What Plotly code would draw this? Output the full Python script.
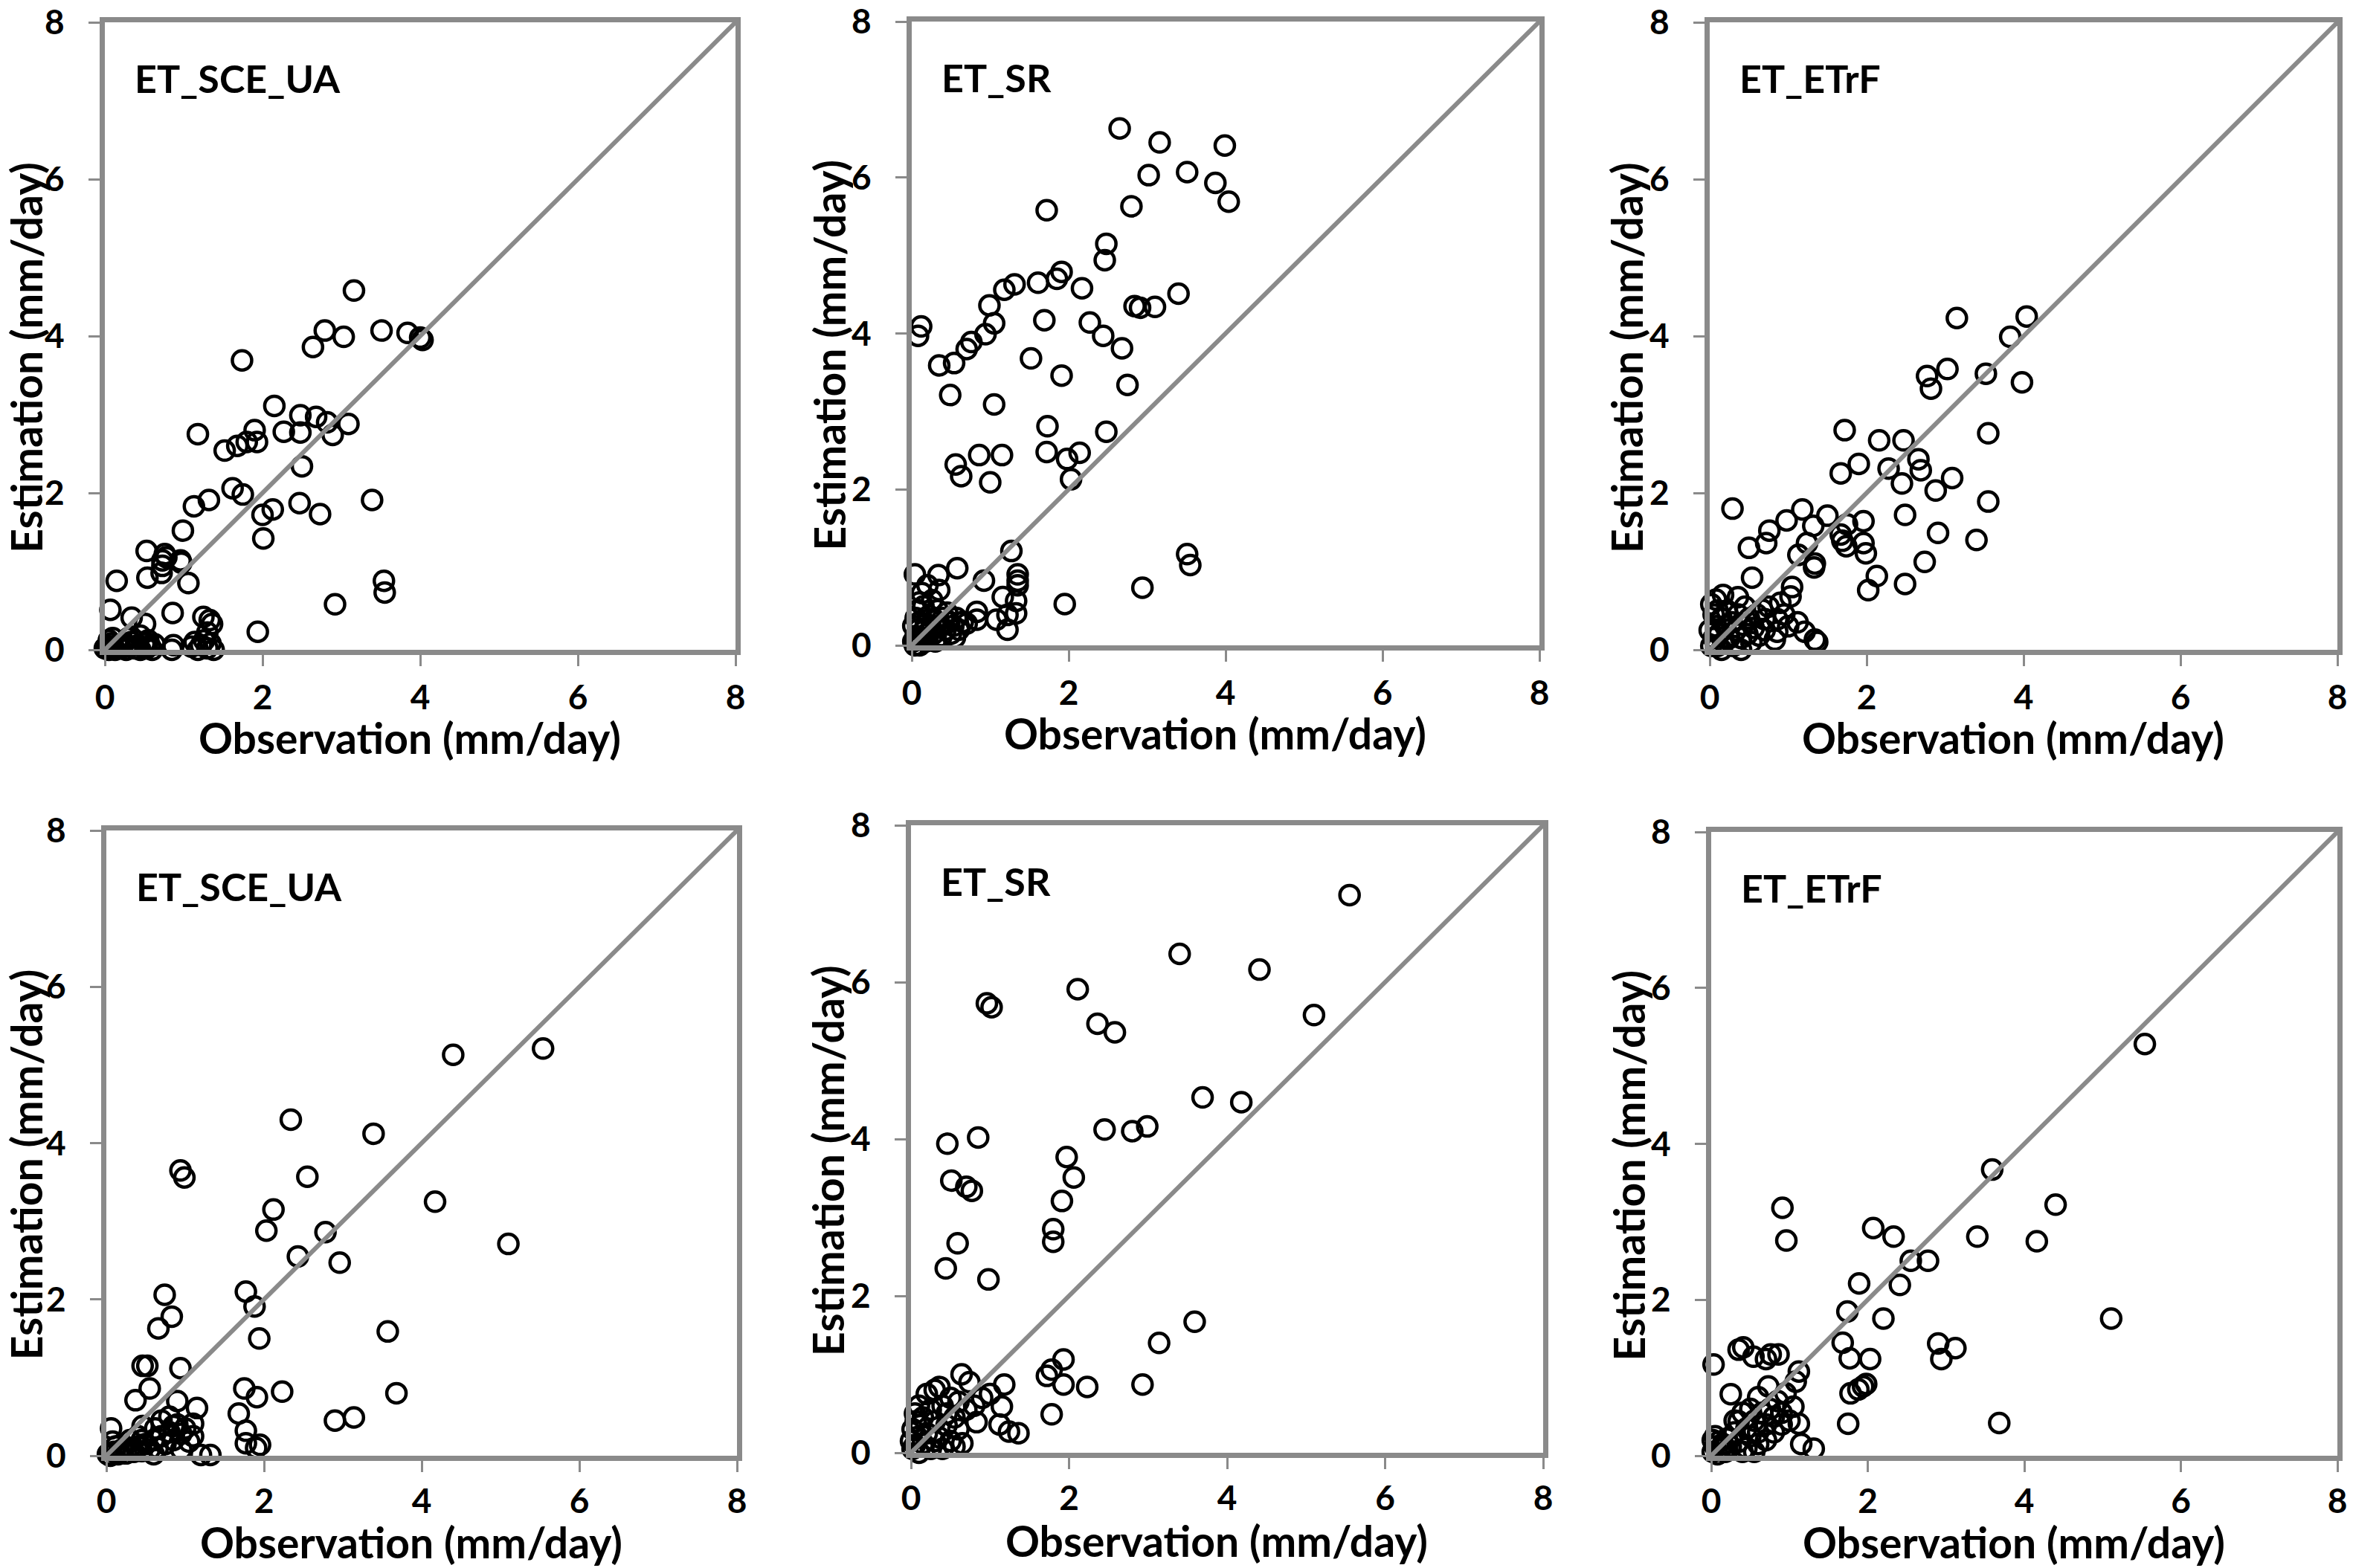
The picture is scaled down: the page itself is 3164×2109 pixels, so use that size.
import plotly.graph_objects as go

# ---------------- data ----------------
ticks = [0, 2, 4, 6, 8]
tick_text = ["0", "2", "4", "6", "8"]
panel_labels = ["ET_SCE_UA", "ET_SR", "ET_ETrF", "ET_SCE_UA", "ET_SR", "ET_ETrF"]
x_title = "Observation (mm/day)"
y_title = "Estimation (mm/day)"
one_to_one = [0, 8]

# Panel 1 : ET_SCE_UA (top)
obs_sce_top = [3.16, 2.79, 3.03, 3.51, 3.84, 4.03, 4.00, 2.64, 1.74, 2.15, 2.48, 2.68, 2.82, 3.09, 2.89,
               2.27, 2.48, 1.90, 1.93, 1.80, 1.68, 1.52, 1.18, 2.50, 1.62, 1.75, 1.32, 1.13, 2.47, 2.13,
               2.00, 2.73, 3.39, 2.01, 0.99, 0.53, 0.78, 0.97, 0.73, 0.72, 0.15, 0.54, 1.06, 3.54, 3.55,
               2.92, 0.07, 0.86, 0.34, 0.51, 1.25, 1.33, 1.36, 1.94, 0.76, 0.73, 0.96,
               0.00, 0.03, 0.05, 0.08, 0.10, 0.13, 0.16, 0.20, 0.24, 0.27, 0.30, 0.34, 0.38, 0.42, 0.45,
               0.50, 0.53, 0.57, 0.60, 0.63, 0.85, 0.87, 1.10, 1.14, 1.18, 1.22, 1.26, 1.30, 1.34, 1.38,
               0.10, 0.30, 0.05, 0.55, 1.30, 0.45]
est_sce_top = [4.58, 4.07, 3.99, 4.07, 4.04, 3.95, 3.98, 3.86, 3.69, 3.11, 2.99, 2.97, 2.90, 2.88, 2.74,
               2.78, 2.77, 2.80, 2.65, 2.65, 2.60, 2.54, 2.75, 2.34, 2.06, 1.98, 1.91, 1.83, 1.87, 1.79,
               1.72, 1.73, 1.91, 1.42, 1.52, 1.26, 1.18, 1.11, 1.07, 0.98, 0.88, 0.92, 0.85, 0.88, 0.73,
               0.58, 0.51, 0.47, 0.41, 0.33, 0.42, 0.38, 0.33, 0.23, 1.22, 1.14, 1.14,
               0.02, 0.05, 0.00, 0.08, 0.03, 0.00, 0.06, 0.02, 0.08, 0.00, 0.04, 0.10, 0.02, 0.06, 0.00,
               0.08, 0.02, 0.05, 0.00, 0.07, 0.00, 0.06, 0.04, 0.10, 0.00, 0.06, 0.12, 0.02, 0.08, 0.00,
               0.15, 0.15, 0.12, 0.12, 0.22, 0.18]

# Panel 2 : ET_SR (top)
obs_sr_top = [2.65, 3.16, 3.99, 3.51, 3.02, 3.87, 4.04, 2.80, 1.72, 2.48, 2.46, 1.91, 1.85, 1.61, 1.31,
              1.18, 2.17, 3.40, 0.99, 2.84, 2.91, 3.10, 2.27, 1.69, 1.05, 0.94, 2.44, 0.12, 0.08, 0.76,
              0.70, 2.68, 0.35, 0.54, 1.52, 1.91, 2.75, 0.49, 1.05, 1.73, 2.48, 0.86, 1.15, 1.72, 2.14,
              1.98, 0.56, 0.63, 1.00, 2.03, 1.27, 3.51, 3.55, 2.94, 1.95,
              0.04, 0.58, 0.34, 0.92, 1.35, 1.35, 1.35, 1.16, 1.33, 0.83, 0.83, 1.22, 1.08, 1.22, 1.33,
              0.20, 0.13, 0.35, 0.26,
              0.02, 0.05, 0.08, 0.10, 0.12, 0.15, 0.18, 0.20, 0.22, 0.25, 0.28, 0.30, 0.33, 0.35, 0.38,
              0.40, 0.43, 0.45, 0.48, 0.50, 0.53, 0.57, 0.60, 0.65, 0.05, 0.08, 0.10, 0.15, 0.02, 0.04,
              0.10, 0.18, 0.30, 0.70, 0.55]
est_sr_top = [6.63, 6.45, 6.41, 6.07, 6.03, 5.93, 5.69, 5.63, 5.58, 5.15, 4.94, 4.79, 4.70, 4.65, 4.63,
              4.56, 4.58, 4.51, 4.36, 4.35, 4.33, 4.34, 4.14, 4.17, 4.13, 3.99, 3.97, 4.09, 3.97, 3.89,
              3.80, 3.81, 3.59, 3.62, 3.68, 3.46, 3.34, 3.21, 3.09, 2.81, 2.74, 2.44, 2.44, 2.48, 2.47,
              2.39, 2.32, 2.17, 2.09, 2.13, 1.21, 1.17, 1.03, 0.74, 0.53,
              0.91, 0.99, 0.90, 0.83, 0.91, 0.83, 0.77, 0.62, 0.57, 0.43, 0.33, 0.39, 0.33, 0.20, 0.41,
              0.77, 0.67, 0.71, 0.58,
              0.05, 0.12, 0.20, 0.30, 0.08, 0.18, 0.28, 0.10, 0.38, 0.22, 0.15, 0.32, 0.45, 0.25, 0.12,
              0.35, 0.20, 0.42, 0.30, 0.15, 0.25, 0.35, 0.20, 0.30, 0.35, 0.45, 0.55, 0.50, 0.25, 0.00,
              0.00, 0.05, 0.05, 0.28, 0.10]

# Panel 3 : ET_ETrF (top)
obs_etrf_top = [4.04, 3.15, 3.83, 3.98, 3.03, 3.52, 2.77, 2.82, 3.55, 1.72, 2.16, 2.47, 2.66, 2.69, 1.90,
                2.28, 1.67, 3.09, 2.45, 2.88, 3.55, 0.29, 1.18, 1.50, 0.98, 1.96, 2.49, 1.32, 0.76, 1.67,
                0.72, 0.50, 2.91, 3.40, 1.74, 1.96, 1.99, 1.13, 1.34, 1.33, 2.74, 0.54, 2.13, 2.49, 2.02,
                1.24, 1.75, 1.69,
                1.05, 1.03, 1.34, 1.37, 1.21, 1.12, 0.83, 0.86, 0.86, 0.67, 0.70, 0.08, 0.17, 0.36, 0.02,
                0.02, 0.05, 0.08, 0.10, 0.12, 0.15, 0.18, 0.20, 0.22, 0.25, 0.28, 0.30, 0.33, 0.36, 0.40,
                0.42, 0.45, 0.48, 0.50, 0.53, 0.56, 0.60, 0.63, 0.05, 0.10, 0.00, 0.15, 0.40, 0.70, 0.75,
                0.95, 1.00, 0.90]
est_etrf_top = [4.25, 4.23, 3.99, 3.41, 3.58, 3.52, 3.49, 3.33, 2.76, 2.80, 2.67, 2.67, 2.43, 2.29, 2.37,
                2.31, 2.25, 2.19, 2.12, 2.03, 1.89, 1.80, 1.79, 1.71, 1.65, 1.64, 1.72, 1.58, 1.52, 1.47,
                1.36, 1.30, 1.49, 1.40, 1.32, 1.36, 1.23, 1.21, 1.10, 1.05, 1.12, 0.92, 0.94, 0.84, 0.76,
                1.36, 1.60, 1.39,
                0.80, 0.68, 0.13, 0.10, 0.23, 0.35, 0.13, 0.39, 0.23, 0.51, 0.39, 0.64, 0.70, 0.67, 0.58,
                0.05, 0.15, 0.30, 0.05, 0.20, 0.40, 0.10, 0.30, 0.50, 0.15, 0.35, 0.05, 0.25, 0.45, 0.15,
                0.32, 0.55, 0.20, 0.40, 0.10, 0.28, 0.45, 0.18, 0.45, 0.50, 0.25, 0.00, 0.00, 0.25, 0.55,
                0.45, 0.30, 0.60]

# Panel 4 : ET_SCE_UA (bottom)
obs_sce_bot = [5.54, 4.40, 2.34, 3.39, 0.94, 0.99, 2.55, 4.17, 2.12, 2.03, 2.78, 5.10, 2.43, 2.96, 1.77,
               0.74, 1.88, 0.83, 0.66, 3.57, 1.94, 0.46, 0.52, 0.94, 0.55, 1.75, 2.23, 3.68, 1.91, 0.37,
               0.90, 1.15, 1.68, 3.14, 2.90, 0.06, 1.77, 1.10, 1.77, 1.95, 1.90, 1.20, 1.32, 0.46,
               0.02, 0.05, 0.10, 0.15, 0.20, 0.25, 0.30, 0.35, 0.40, 0.45, 0.50, 0.55, 0.60, 0.65, 0.70,
               0.75, 0.80, 0.85, 0.90, 0.95, 1.00, 1.05, 0.62, 0.70, 0.80, 0.85, 0.40, 0.30, 0.12, 0.08,
               1.10, 0.95, 0.60, 0.45]
est_sce_bot = [5.21, 5.13, 4.30, 4.12, 3.65, 3.56, 3.57, 3.25, 3.15, 2.88, 2.86, 2.71, 2.55, 2.47, 2.10,
               2.06, 1.91, 1.78, 1.63, 1.59, 1.50, 1.15, 1.15, 1.12, 0.86, 0.86, 0.82, 0.80, 0.75, 0.71,
               0.70, 0.61, 0.54, 0.49, 0.45, 0.35, 0.32, 0.41, 0.16, 0.14, 0.10, 0.01, 0.01, 0.38,
               0.02, 0.00, 0.05, 0.02, 0.08, 0.03, 0.10, 0.05, 0.12, 0.06, 0.15, 0.08, 0.20, 0.10, 0.25,
               0.15, 0.30, 0.20, 0.40, 0.28, 0.35, 0.18, 0.35, 0.45, 0.50, 0.38, 0.25, 0.20, 0.12, 0.18,
               0.25, 0.08, 0.02, 0.20]

# Panel 5 : ET_SR (bottom)
obs_sr_bot = [5.55, 3.40, 4.41, 2.11, 0.96, 1.02, 2.36, 2.58, 5.10, 3.69, 4.18, 2.99, 2.45, 2.80, 0.85,
              0.46, 1.97, 2.06, 0.51, 0.70, 0.77, 1.91, 1.80, 1.80, 0.59, 0.44, 0.98, 3.59, 3.14, 1.93,
              1.78, 1.72, 1.93, 2.23, 2.93, 1.78, 1.18, 1.15, 1.12, 1.24, 1.36, 0.64, 0.83,
              0.74, 0.36, 0.30, 0.20, 0.10, 0.05, 0.15, 0.25, 0.40, 0.50, 0.60, 0.70, 0.02, 0.08, 0.12,
              0.20, 0.30, 0.35, 0.45, 0.55, 0.60, 0.02, 0.05, 0.10, 0.15, 0.25, 0.30, 0.40, 0.50, 0.55,
              0.65, 0.00, 0.06, 0.90, 0.80, 1.00, 0.45]
est_sr_bot = [7.11, 6.36, 6.16, 5.91, 5.73, 5.68, 5.47, 5.36, 5.58, 4.53, 4.47, 4.16, 4.12, 4.10, 4.02,
              3.94, 3.77, 3.51, 3.47, 3.39, 3.34, 3.21, 2.85, 2.69, 2.67, 2.35, 2.21, 1.67, 1.40, 1.19,
              1.06, 0.98, 0.87, 0.84, 0.87, 0.49, 0.87, 0.59, 0.36, 0.27, 0.25, 1.00, 0.39,
              0.90, 0.84, 0.80, 0.75, 0.60, 0.50, 0.45, 0.55, 0.60, 0.70, 0.65, 0.55, 0.30, 0.20, 0.35,
              0.25, 0.40, 0.20, 0.35, 0.45, 0.30, 0.05, 0.10, 0.00, 0.12, 0.05, 0.15, 0.05, 0.15, 0.08,
              0.12, 0.15, 0.40, 0.70, 0.60, 0.75, 0.50]

# Panel 6 : ET_ETrF (bottom)
obs_etrf_bot = [5.54, 3.59, 4.40, 0.91, 0.96, 2.07, 2.33, 3.40, 4.16, 2.55, 2.77, 1.89, 2.41, 1.74, 2.20,
                5.11, 1.68, 2.90, 3.12, 2.94, 1.77, 2.03, 1.78, 1.88, 1.94, 1.98, 1.75, 3.68, 0.03, 0.35,
                0.41, 0.54, 0.70, 0.76, 0.86, 1.12, 1.08, 0.25, 0.73, 1.12, 1.15, 1.31, 1.05, 0.35,
                0.02, 0.05, 0.08, 0.10, 0.12, 0.15, 0.02, 0.05, 0.18, 0.20, 0.25, 0.30, 0.35, 0.40, 0.45,
                0.50, 0.55, 0.60, 0.65, 0.70, 0.75, 0.80, 0.85, 0.90, 0.95, 0.50, 0.60, 0.40, 0.30, 0.45,
                0.55, 0.80, 0.90, 1.00, 0.70, 0.60]
est_etrf_bot = [5.28, 3.67, 3.22, 3.18, 2.76, 2.92, 2.81, 2.81, 2.75, 2.50, 2.50, 2.21, 2.19, 1.85, 1.76,
                1.76, 1.45, 1.44, 1.38, 1.24, 1.25, 1.24, 0.80, 0.85, 0.89, 0.92, 0.41, 0.42, 1.17, 1.36,
                1.39, 1.27, 1.24, 1.30, 1.30, 1.08, 0.95, 0.79, 0.89, 0.41, 0.15, 0.09, 0.63, 0.44,
                0.05, 0.12, 0.02, 0.18, 0.08, 0.15, 0.20, 0.25, 0.05, 0.22, 0.12, 0.30, 0.18, 0.05, 0.35,
                0.25, 0.45, 0.30, 0.55, 0.40, 0.60, 0.50, 0.70, 0.55, 0.80, 0.60, 0.75, 0.55, 0.45, 0.10,
                0.05, 0.30, 0.40, 0.45, 0.20, 0.15]

obs_series = [obs_sce_top, obs_sr_top, obs_etrf_top, obs_sce_bot, obs_sr_bot, obs_etrf_bot]
est_series = [est_sce_top, est_sr_top, est_etrf_top, est_sce_bot, est_sr_bot, est_etrf_bot]

# ---------------- layout / style ----------------
W, H = 3164, 2109
GRAY = "#8a8a8a"
FONT = "Lato"
TITLE_SIZE = 57
YTITLE_SIZE = 57


def fx(px):
    return px / W


def fy(py):
    return 1 - py / H


# plot-area boxes in pixels: (left, right, top, bottom)
boxes = [
    (141, 989, 30, 874),
    (1226, 2070, 29, 868),
    (2299, 3143, 30, 874),
    (143, 991, 1117, 1958),
    (1225, 2075, 1110, 1954),
    (2301, 3143, 1119, 1958),
]

bold = dict(family=FONT, color="black", weight="bold")

fig = go.Figure()
layout = dict(
    width=W, height=H,
    margin=dict(l=0, r=0, t=0, b=0, pad=0),
    paper_bgcolor="white", plot_bgcolor="white",
    showlegend=False,
    font=dict(family=FONT, color="black"),
    annotations=[],
)

for i, (box, xs, ys, lab) in enumerate(zip(boxes, obs_series, est_series, panel_labels), start=1):
    xa = "x" if i == 1 else f"x{i}"
    ya = "y" if i == 1 else f"y{i}"
    l, r, t, b = box
    fig.add_trace(go.Scatter(
        x=xs, y=ys, mode="markers", xaxis=xa, yaxis=ya,
        marker=dict(symbol="circle-open", size=26, color="black", line=dict(width=4.5, color="black")),
        cliponaxis=False, hoverinfo="x+y",
    ))
    fig.add_trace(go.Scatter(
        x=one_to_one, y=one_to_one, mode="lines", xaxis=xa, yaxis=ya,
        line=dict(color=GRAY, width=6), hoverinfo="skip",
    ))
    common = dict(
        range=[0, 8], tickvals=ticks, ticktext=tick_text,
        ticks="outside", ticklen=15, tickwidth=3, tickcolor=GRAY,
        showline=True, linecolor=GRAY, linewidth=7, mirror=True,
        showgrid=False, zeroline=False, automargin=False,
        tickfont=dict(bold, size=46),
        fixedrange=True,
    )
    bottom_row = i > 3
    layout["xaxis" if i == 1 else f"xaxis{i}"] = dict(
        common, domain=[fx(l), fx(r)], anchor=ya, ticklabelstandoff=0 if bottom_row else 3,
    )
    layout["yaxis" if i == 1 else f"yaxis{i}"] = dict(
        common, domain=[fy(b), fy(t)], anchor=xa, ticklabelstandoff=23,
    )
    # panel label
    layout["annotations"].append(dict(
        text=lab, showarrow=False, xref="paper", yref="paper",
        x=fx(l + 38), y=fy(t + 75), xanchor="left", yanchor="middle",
        font=dict(bold, size=52),
    ))
    # x-axis title (kept fully inside the page)
    ty = min(b + 118, H - 0.62 * TITLE_SIZE)
    layout["annotations"].append(dict(
        text=x_title, showarrow=False, xref="paper", yref="paper",
        x=fx((l + r) / 2 - 14), y=fy(ty), xanchor="center", yanchor="middle",
        font=dict(bold, size=TITLE_SIZE),
    ))
    # y-axis title (kept fully inside the page)
    tx = max(l - 112, 0.61 * YTITLE_SIZE)
    layout["annotations"].append(dict(
        text=y_title, showarrow=False, xref="paper", yref="paper", textangle=-90,
        x=fx(tx), y=fy((t + b) / 2 + 29), xanchor="center", yanchor="middle",
        font=dict(bold, size=YTITLE_SIZE),
    ))

fig.update_layout(**layout)
fig.write_html("out.html", config={"displayModeBar": False},
               post_script="document.body.style.margin='0';")
